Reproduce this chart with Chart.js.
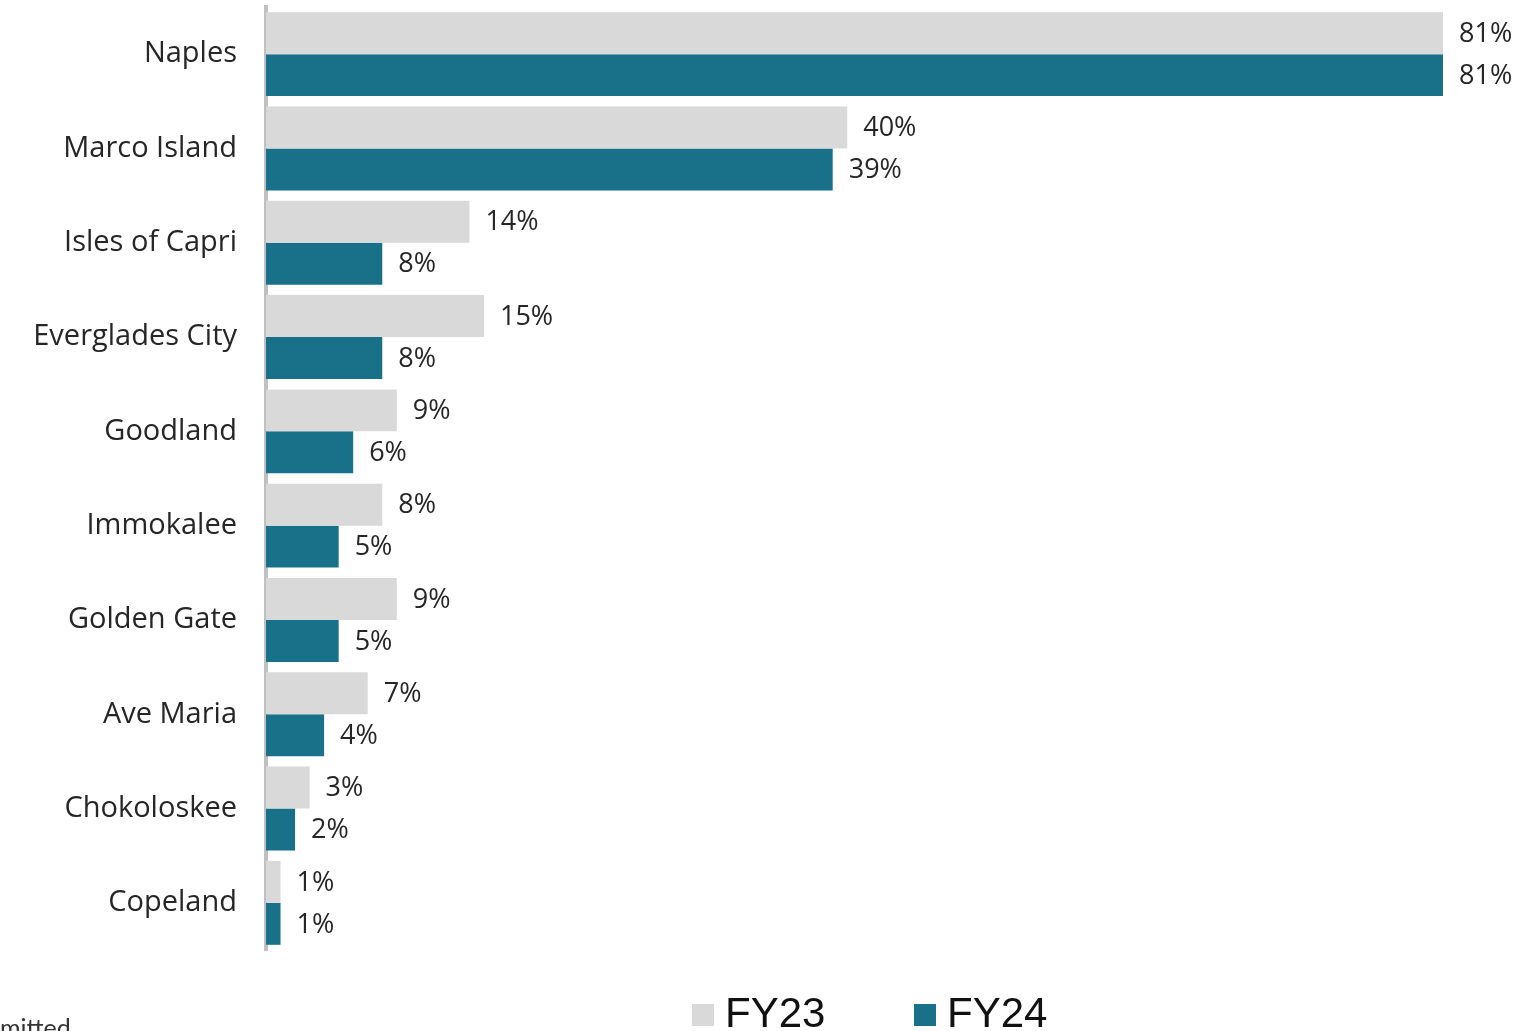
<!DOCTYPE html>
<html>
<head>
<meta charset="utf-8">
<script src="https://cdn.jsdelivr.net/npm/chart.js@4.4.1/dist/chart.umd.min.js"></script>
<style>
  html, body { margin: 0; padding: 0; background: #fff; overflow: hidden; }
  #wrap { position: relative; width: 1518px; height: 1031px; }
  #note { position: absolute; left: 0; top: 1012px; font: 25px Lato, sans-serif; color: #333; white-space: nowrap; }
</style>
</head>
<body>
<div id="wrap">
  <canvas id="chart" width="1518" height="1031"></canvas>
  <div id="note">mitted</div>
</div>
<script>
// Communities and share of responses per fiscal year (%)
const communities = ['Naples', 'Marco Island', 'Isles of Capri', 'Everglades City', 'Goodland',
  'Immokalee', 'Golden Gate', 'Ave Maria', 'Chokoloskee', 'Copeland'];
const fy23 = [81, 40, 14, 15, 9, 8, 9, 7, 3, 1];
const fy24 = [81, 39, 8, 8, 6, 5, 5, 4, 2, 1];
const seriesNames = ['FY23', 'FY24'];

const GRAY = '#d9d9d9';
const TEAL = '#187089';
const FONT = '"Open Sans", sans-serif';

// percent value to the right of every bar
const valueLabels = {
  id: 'valueLabels',
  afterDatasetsDraw(chart) {
    const ctx = chart.ctx;
    ctx.save();
    ctx.font = '27px ' + FONT;
    ctx.fillStyle = '#262626';
    ctx.textBaseline = 'middle';
    ctx.textAlign = 'left';
    chart.data.datasets.forEach((ds, i) => {
      chart.getDatasetMeta(i).data.forEach((bar, j) => {
        ctx.fillText(ds.data[j] + '%', bar.x + 16, bar.y + 1);
      });
    });
    ctx.restore();
  }
};

// square-marker legend under the plot
const bottomLegend = {
  id: 'bottomLegend',
  afterDraw(chart) {
    const ctx = chart.ctx;
    const starts = [692, 914];
    ctx.save();
    ctx.font = '42px "Liberation Sans", Arial, sans-serif';
    ctx.textBaseline = 'alphabetic';
    chart.data.datasets.forEach((ds, i) => {
      const x = starts[i];
      ctx.fillStyle = ds.backgroundColor;
      ctx.fillRect(x, 1004, 22, 22);
      ctx.fillStyle = '#111';
      ctx.fillText(ds.label, x + 33, 1027);
    });
    ctx.restore();
  }
};

new Chart(document.getElementById('chart'), {
  type: 'bar',
  data: {
    labels: communities,
    datasets: [
      { label: seriesNames[0], data: fy23, backgroundColor: GRAY },
      { label: seriesNames[1], data: fy24, backgroundColor: TEAL }
    ]
  },
  options: {
    indexAxis: 'y',
    responsive: false,
    animation: false,
    layout: { padding: { top: 7, right: 75, bottom: 81, left: 0 } },
    datasets: { bar: { categoryPercentage: 0.89, barPercentage: 1.0 } },
    scales: {
      x: { display: false, min: 0, max: 81 },
      y: {
        grid: { display: false },
        border: { display: true, color: '#c0c0c0', width: 4 },
        afterFit(scale) {
          scale.width = 266;
          scale.paddingTop = 0;
          scale.paddingBottom = 0;
        },
        ticks: {
          padding: 21,
          color: '#262626',
          font: { family: FONT, size: 29 }
        }
      }
    },
    plugins: {
      legend: { display: false },
      tooltip: { enabled: false }
    }
  },
  plugins: [valueLabels, bottomLegend]
});
</script>
</body>
</html>
